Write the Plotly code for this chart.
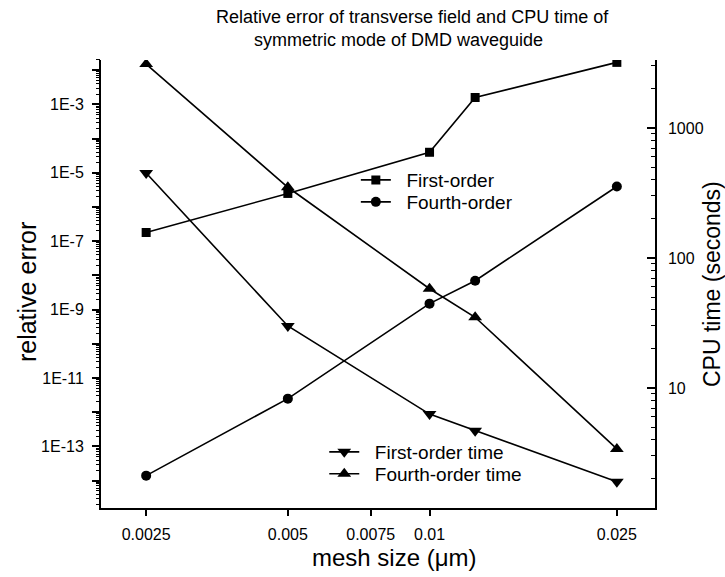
import plotly.graph_objects as go

mesh = [0.0025, 0.005, 0.01, 0.0125, 0.025]
first_err = [1.8e-7, 2.5e-6, 4e-5, 1.6e-3, 1.7e-2]
fourth_err = [1.4e-14, 2.5e-12, 1.5e-9, 7e-9, 4e-6]
first_time = [450, 30, 6.3, 4.7, 1.9]
fourth_time = [3100, 350, 58, 35, 3.4]

xtick_vals = [0.0025, 0.005, 0.0075, 0.01, 0.025]
xtick_text = ["0.0025", "0.005", "0.0075", "0.01", "0.025"]
left_exps = list(range(-14, -1))
right_major = [10, 100, 1000]

FONT = "Liberation Sans, Arial, sans-serif"
NB = "\u00a0\u00a0"
fig = go.Figure()

line = dict(color="black", width=1.6)
series = [
    ("First-order", first_err, "square", 9, "y", "legend"),
    ("Fourth-order", fourth_err, "circle", 10, "y", "legend3"),
    ("First-order time", first_time, "triangle-down", 12, "y2", "legend2"),
    ("Fourth-order time", fourth_time, "triangle-up", 12, "y2", "legend4"),
]
for name, vals, sym, sz, yax, leg in series:
    fig.add_trace(go.Scatter(x=mesh, y=vals, name=NB + name, mode="lines+markers",
                             line=line, marker=dict(symbol=sym, size=sz, color="black"),
                             legend=leg, xaxis="x", yaxis=yax))
fig.add_trace(go.Scatter(x=[None], y=[None], showlegend=False, xaxis="x", yaxis="y3"))
fig.add_trace(go.Scatter(x=[None], y=[None], showlegend=False, xaxis="x", yaxis="y4"))

left_vals = [10.0 ** e for e in left_exps]
left_text = [("1E%d" % e) if e % 2 != 0 else "" for e in left_exps]
left_minor = [m * 10.0 ** e for e in range(-15, -1) for m in range(2, 10)]
right_minor = [m * 10.0 ** e for e in range(0, 4) for m in range(2, 10)]

yl_range = [-14.8, -1.7]
yr_range = [0.077, 3.523]

def leg(x, y):
    return dict(x=x, y=y, xanchor="left", yanchor="middle", bgcolor="rgba(0,0,0,0)",
                font=dict(size=19), tracegroupgap=0, itemwidth=30, borderwidth=0)

fig.update_layout(
    width=725, height=577,
    margin=dict(l=101, r=70, t=60, b=69),
    paper_bgcolor="white", plot_bgcolor="white",
    font=dict(family=FONT, color="black", size=16),
    xaxis=dict(type="log", range=[-2.698, -1.521], tickvals=xtick_vals, ticktext=xtick_text,
               showline=True, linecolor="black", linewidth=2, ticks="outside", ticklen=6,
               tickwidth=1.5, tickcolor="black", showgrid=False, zeroline=False,
               ticklabelstandoff=5, tickfont=dict(size=16)),
    yaxis=dict(type="log", range=yl_range, tickvals=left_vals, ticktext=left_text,
               showline=True, linecolor="black", linewidth=2, ticks="outside", ticklen=7,
               tickwidth=1.5, tickcolor="black", showgrid=False, zeroline=False,
               ticklabelstandoff=5, tickfont=dict(size=16)),
    yaxis3=dict(type="log", range=yl_range, overlaying="y", side="left", anchor="x",
                tickvals=left_minor, showticklabels=False, ticks="outside", ticklen=4,
                tickwidth=1, tickcolor="black", showgrid=False, showline=False, zeroline=False),
    yaxis2=dict(type="log", range=yr_range, overlaying="y", side="right", anchor="x",
                tickvals=right_major, ticktext=["10", "100", "1000"],
                showline=True, linecolor="black", linewidth=1.5, ticks="inside", ticklen=8,
                tickwidth=1.5, tickcolor="black", showgrid=False, zeroline=False,
                ticklabelstandoff=8, tickfont=dict(size=16)),
    yaxis4=dict(type="log", range=yr_range, overlaying="y", side="right", anchor="x",
                tickvals=right_minor, showticklabels=False, ticks="inside", ticklen=4,
                tickwidth=1, tickcolor="black", showgrid=False, showline=False, zeroline=False),
    legend=leg(0.46, 0.732),
    legend3=leg(0.46, 0.683),
    legend2=leg(0.403, 0.125),
    legend4=leg(0.403, 0.076),
    annotations=[
        dict(text="Relative error of transverse field and CPU time of",
             xref="paper", yref="paper", x=(412 - 101) / 554, y=1.0, yshift=43, xanchor="center",
             yanchor="middle", showarrow=False, font=dict(size=18, family=FONT)),
        dict(text="symmetric mode of DMD waveguide",
             xref="paper", yref="paper", x=(398 - 101) / 554, y=1.0, yshift=20, xanchor="center",
             yanchor="middle", showarrow=False, font=dict(size=18, family=FONT)),
        dict(text="mesh size (\u03bcm)", xref="paper", yref="paper", x=0.529, y=0, yshift=-49,
             xanchor="center", yanchor="middle", showarrow=False, font=dict(size=24, family=FONT)),
        dict(text="relative error", xref="paper", yref="paper", x=0, xshift=-74, y=0.482,
             xanchor="center", yanchor="middle", textangle=-90, showarrow=False,
             font=dict(size=25, family=FONT)),
        dict(text="CPU time (seconds)", xref="paper", yref="paper", x=1, xshift=57, y=0.5,
             xanchor="center", yanchor="middle", textangle=-90, showarrow=False,
             font=dict(size=23, family=FONT)),
    ],
)

fig.write_html("out.html")
